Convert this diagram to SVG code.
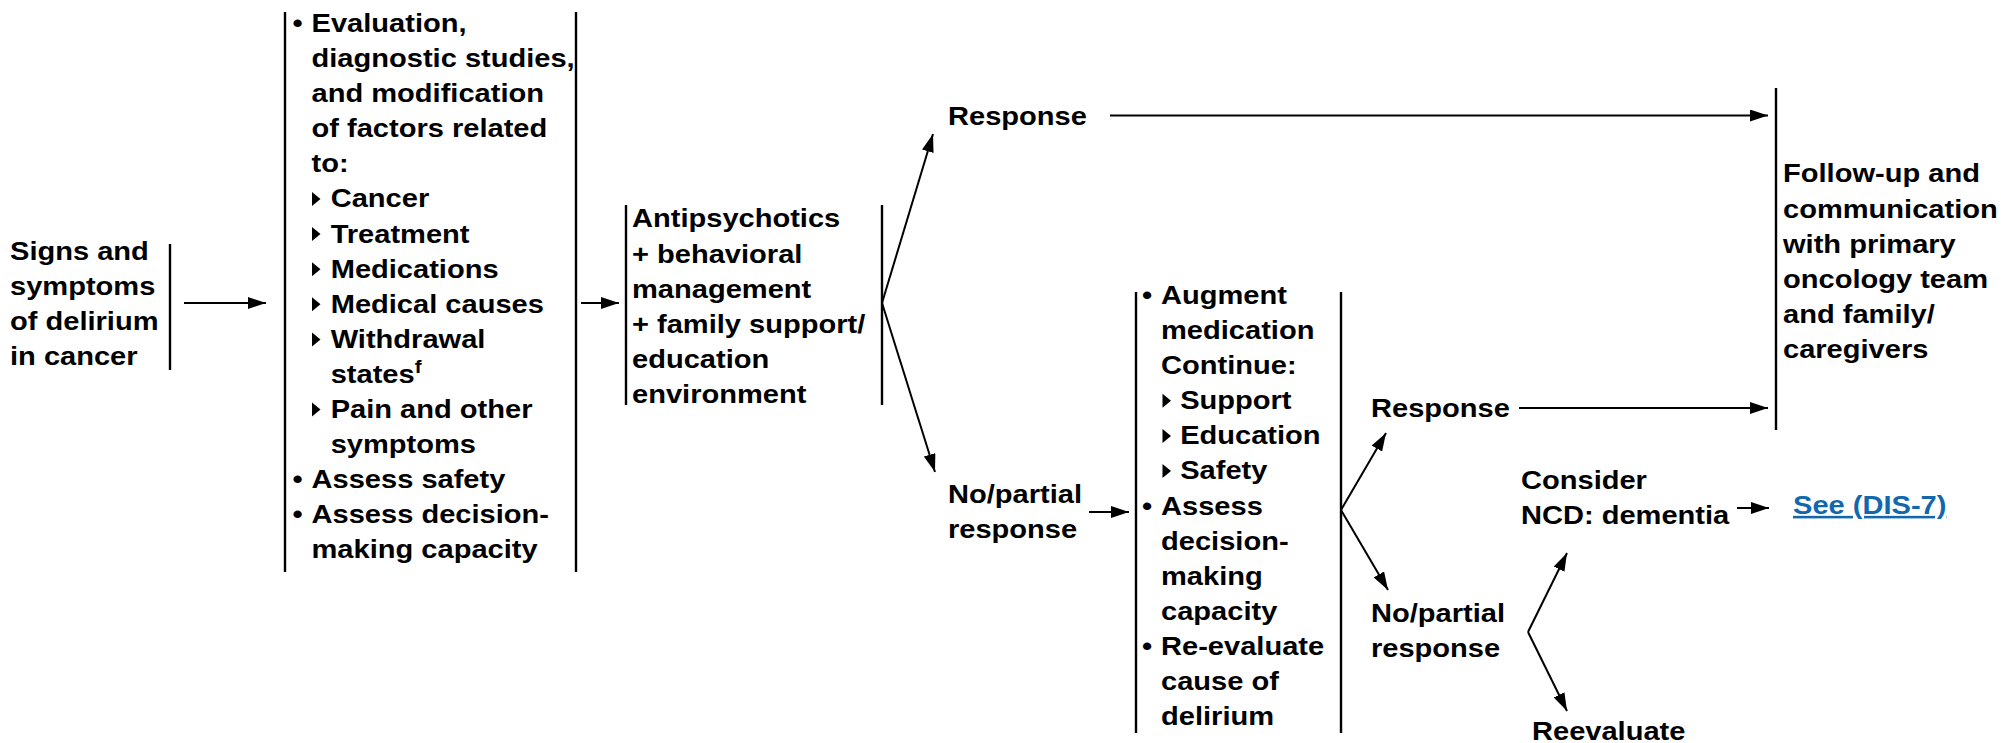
<svg xmlns="http://www.w3.org/2000/svg" xmlns:xlink="http://www.w3.org/1999/xlink" width="2001" height="743" viewBox="0 0 2001 743">
<style>
text{font-family:"Liberation Sans",Arial,Helvetica,sans-serif;font-weight:bold;font-size:25.5px;fill:#000}
.bar{stroke:#000;stroke-width:2.4;fill:none}
.con{stroke:#000;stroke-width:2;fill:none;marker-end:url(#ah)}
.link{fill:#1268ad;text-decoration:underline}
.sup{font-size:18px}
</style>
<defs>
<marker id="ah" viewBox="0 0 18 12" refX="18" refY="6" markerWidth="18" markerHeight="12" orient="auto" markerUnits="userSpaceOnUse"><path d="M0,0 L18,6 L0,12 Z" fill="#000"/></marker>
<path id="tri" d="M0,-15.5 L8.5,-8.5 L0,-1.5 Z" fill="#000"/>
</defs>
<rect width="2001" height="743" fill="#fff"/>

<g id="signs">
<line class="bar" x1="170" y1="244" x2="170" y2="370"/>
<text transform="matrix(1.14 0 0 1 10 0)"><tspan x="0" y="260">Signs and</tspan><tspan x="0" y="295">symptoms</tspan><tspan x="0" y="330">of delirium</tspan><tspan x="0" y="365">in cancer</tspan></text>
</g>

<g id="evaluation">
<line class="bar" x1="285" y1="12" x2="285" y2="572"/>
<line class="bar" x1="576" y1="12" x2="576" y2="572"/>
<text transform="matrix(1.14 0 0 1 292.5 0)"><tspan x="0" y="32">•</tspan><tspan x="16.7" y="32">Evaluation,</tspan><tspan x="16.7" y="67.1">diagnostic studies,</tspan><tspan x="16.7" y="102.2">and modification</tspan><tspan x="16.7" y="137.3">of factors related</tspan><tspan x="16.7" y="172.4">to:</tspan><tspan x="33.5" y="207.5">Cancer</tspan><tspan x="33.5" y="242.6">Treatment</tspan><tspan x="33.5" y="277.7">Medications</tspan><tspan x="33.5" y="312.8">Medical causes</tspan><tspan x="33.5" y="347.9">Withdrawal</tspan><tspan x="33.5" y="383">states</tspan><tspan class="sup" dy="-10">f</tspan><tspan x="33.5" y="418.1">Pain and other</tspan><tspan x="33.5" y="453.2">symptoms</tspan><tspan x="0" y="488.3">•</tspan><tspan x="16.7" y="488.3">Assess safety</tspan><tspan x="0" y="523.4">•</tspan><tspan x="16.7" y="523.4">Assess decision-</tspan><tspan x="16.7" y="558.5">making capacity</tspan></text>
<use xlink:href="#tri" x="312" y="207.5"/>
<use xlink:href="#tri" x="312" y="242.6"/>
<use xlink:href="#tri" x="312" y="277.7"/>
<use xlink:href="#tri" x="312" y="312.8"/>
<use xlink:href="#tri" x="312" y="347.9"/>
<use xlink:href="#tri" x="312" y="418.1"/>
</g>

<g id="antipsychotics">
<line class="bar" x1="626" y1="205" x2="626" y2="405"/>
<line class="bar" x1="882" y1="205" x2="882" y2="405"/>
<text transform="matrix(1.14 0 0 1 632 0)"><tspan x="0" y="227.5">Antipsychotics</tspan><tspan x="0" y="262.6">+ behavioral</tspan><tspan x="0" y="297.7">management</tspan><tspan x="0" y="332.8">+ family support/</tspan><tspan x="0" y="367.9">education</tspan><tspan x="0" y="403">environment</tspan></text>
</g>

<g id="response1">
<text transform="matrix(1.14 0 0 1 948 0)"><tspan x="0" y="125">Response</tspan></text>
</g>

<g id="nopartial1">
<text transform="matrix(1.14 0 0 1 948 0)"><tspan x="0" y="503">No/partial</tspan><tspan x="0" y="538">response</tspan></text>
</g>

<g id="augment">
<line class="bar" x1="1136" y1="292" x2="1136" y2="733"/>
<line class="bar" x1="1341" y1="292" x2="1341" y2="733"/>
<text transform="matrix(1.14 0 0 1 1142 0)"><tspan x="0" y="304">•</tspan><tspan x="16.7" y="304">Augment</tspan><tspan x="16.7" y="339.1">medication</tspan><tspan x="16.7" y="374.2">Continue:</tspan><tspan x="33.5" y="409.3">Support</tspan><tspan x="33.5" y="444.4">Education</tspan><tspan x="33.5" y="479.5">Safety</tspan><tspan x="0" y="514.6">•</tspan><tspan x="16.7" y="514.6">Assess</tspan><tspan x="16.7" y="549.7">decision-</tspan><tspan x="16.7" y="584.8">making</tspan><tspan x="16.7" y="619.9">capacity</tspan><tspan x="0" y="655">•</tspan><tspan x="16.7" y="655">Re-evaluate</tspan><tspan x="16.7" y="690.1">cause of</tspan><tspan x="16.7" y="725.2">delirium</tspan></text>
<use xlink:href="#tri" x="1162.5" y="409.3"/>
<use xlink:href="#tri" x="1162.5" y="444.4"/>
<use xlink:href="#tri" x="1162.5" y="479.5"/>
</g>

<g id="response2">
<text transform="matrix(1.14 0 0 1 1371 0)"><tspan x="0" y="417">Response</tspan></text>
</g>

<g id="nopartial2">
<text transform="matrix(1.14 0 0 1 1371 0)"><tspan x="0" y="622">No/partial</tspan><tspan x="0" y="657">response</tspan></text>
</g>

<g id="followup">
<line class="bar" x1="1776" y1="88" x2="1776" y2="430"/>
<text transform="matrix(1.14 0 0 1 1783 0)"><tspan x="0" y="182.5">Follow-up and</tspan><tspan x="0" y="217.6">communication</tspan><tspan x="0" y="252.7">with primary</tspan><tspan x="0" y="287.8">oncology team</tspan><tspan x="0" y="322.9">and family/</tspan><tspan x="0" y="358">caregivers</tspan></text>
</g>

<g id="consider">
<text transform="matrix(1.14 0 0 1 1521 0)"><tspan x="0" y="489">Consider</tspan><tspan x="0" y="524">NCD: dementia</tspan></text>
</g>

<g id="dis7">
<text class="link" transform="matrix(1.14 0 0 1 1793 0)"><tspan x="0" y="514">See (DIS-7)</tspan></text>
</g>

<g id="reevaluate">
<text transform="matrix(1.14 0 0 1 1532 0)"><tspan x="0" y="740">Reevaluate</tspan></text>
</g>

<g id="connectors">
<line class="con" x1="184" y1="303" x2="266" y2="303"/>
<line class="con" x1="581" y1="303" x2="619" y2="303"/>
<line class="con" x1="882" y1="303" x2="933" y2="134"/>
<line class="con" x1="882" y1="303" x2="935" y2="472"/>
<line class="con" x1="1110" y1="115.5" x2="1768" y2="115.5"/>
<line class="con" x1="1089" y1="512" x2="1129" y2="512"/>
<line class="con" x1="1341" y1="510" x2="1386" y2="433"/>
<line class="con" x1="1341" y1="510" x2="1388" y2="590"/>
<line class="con" x1="1519" y1="408" x2="1768" y2="408"/>
<line class="con" x1="1528" y1="632" x2="1567" y2="553"/>
<line class="con" x1="1528" y1="632" x2="1567" y2="711"/>
<line class="con" x1="1737" y1="508" x2="1769" y2="508"/>
</g>
</svg>
